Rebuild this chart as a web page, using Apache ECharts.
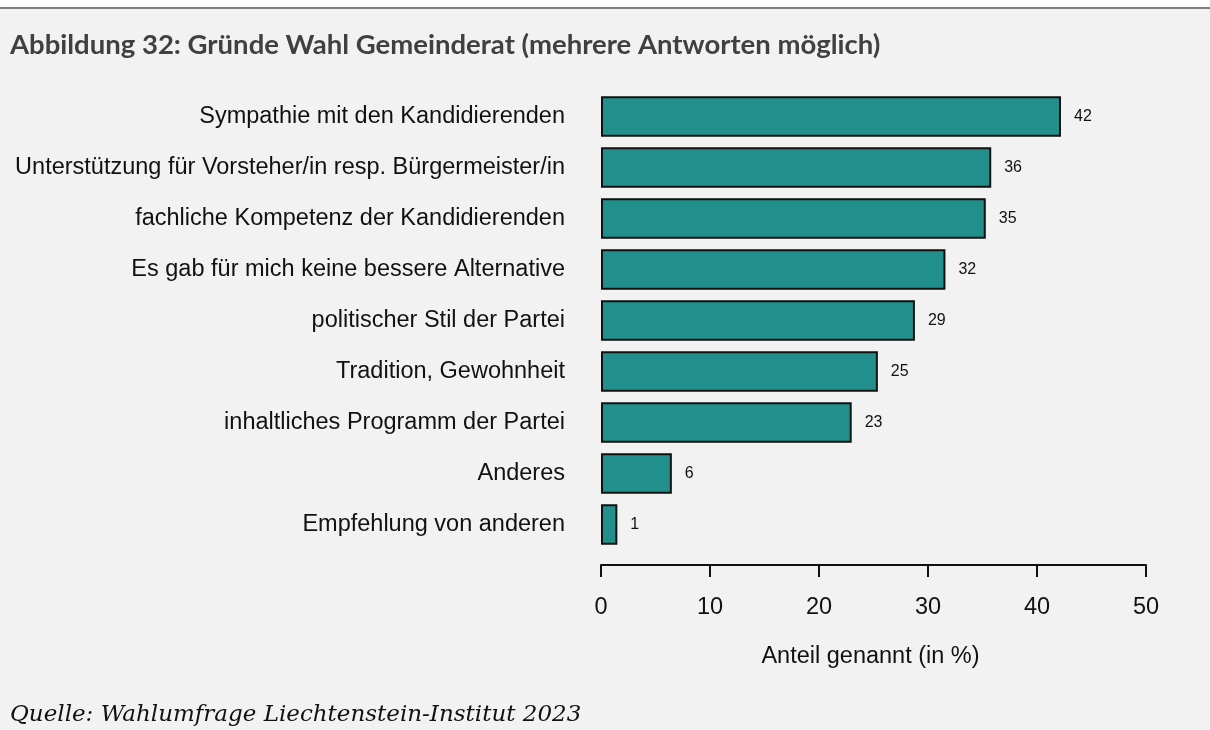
<!DOCTYPE html>
<html>
<head>
<meta charset="utf-8">
<script src="https://cdn.jsdelivr.net/npm/echarts@6/dist/echarts.min.js"></script>
<style>
  html, body { margin: 0; padding: 0; background: #f2f2f2; }
  #chart { width: 1210px; height: 730px; }
</style>
</head>
<body>
<div id="chart"></div>
<script>
// Gründe Wahl Gemeinderat, Anteil genannt (in %)
const categories = [
  'Sympathie mit den Kandidierenden',
  'Unterstützung für Vorsteher/in resp. Bürgermeister/in',
  'fachliche Kompetenz der Kandidierenden',
  'Es gab für mich keine bessere Alternative',
  'politischer Stil der Partei',
  'Tradition, Gewohnheit',
  'inhaltliches Programm der Partei',
  'Anderes',
  'Empfehlung von anderen'
]
const values = [42.2, 35.8, 35.3, 31.6, 28.8, 25.4, 23.0, 6.5, 1.5]
const valueLabels = ['42', '36', '35', '32', '29', '25', '23', '6', '1']
const xTicks = [0, 10, 20, 30, 40, 50]

const chart = echarts.init(document.getElementById('chart'))

const option = {
  backgroundColor: '#f2f2f2',
  animation: false,
  title: [
    {
      text: 'Abbildung 32: Gründe Wahl Gemeinderat (mehrere Antworten möglich)',
      left: 5,
      top: 26,
      textStyle: {
        fontFamily: 'Lato',
        fontWeight: 'bold',
        fontSize: 27.5,
        color: '#404040'
      }
    },
    {
      text: 'Quelle: Wahlumfrage Liechtenstein-Institut 2023',
      left: 5,
      top: 699,
      textStyle: {
        fontFamily: 'DejaVu Serif',
        fontStyle: 'italic',
        fontWeight: 'normal',
        fontSize: 23,
        color: '#111'
      }
    }
  ],
  graphic: [
    {
      type: 'rect',
      shape: { x: 0, y: 0, width: 1210, height: 7 },
      style: { fill: '#ffffff' }
    },
    {
      type: 'line',
      shape: { x1: 0, y1: 8, x2: 1210, y2: 8 },
      style: { stroke: '#7f7f7f', lineWidth: 2 }
    }
  ],
  grid: {
    left: 601,
    right: 64,
    top: 91,
    height: 459
  },
  xAxis: {
    type: 'value',
    min: 0,
    max: 50,
    interval: 10,
    offset: 15,
    name: 'Anteil genannt (in %)',
    nameLocation: 'middle',
    nameGap: 80,
    nameTextStyle: { fontFamily: 'Liberation Sans', fontSize: 23.5, color: '#111', padding: [0, 6, 0, 0] },
    axisLine: { show: true, lineStyle: { color: '#111', width: 2 } },
    axisTick: { show: true, length: 12, lineStyle: { color: '#111', width: 2 } },
    axisLabel: {
      margin: 31,
      fontFamily: 'Liberation Sans',
      fontSize: 23.5,
      color: '#111',
      formatter: v => (xTicks.includes(v) ? String(v) : '')
    },
    splitLine: { show: false }
  },
  yAxis: {
    type: 'category',
    data: categories,
    inverse: true,
    axisLine: { show: false },
    axisTick: { show: false },
    axisLabel: {
      margin: 36,
      fontFamily: 'Liberation Sans',
      fontSize: 23.5,
      color: '#111'
    }
  },
  series: [{
    type: 'bar',
    data: values,
    barCategoryGap: '21%',
    itemStyle: {
      color: '#21908c',
      borderColor: '#111',
      borderWidth: 2
    },
    label: {
      show: true,
      position: 'right',
      distance: 13,
      fontFamily: 'Liberation Sans',
      fontSize: 16,
      color: '#111',
      formatter: p => valueLabels[p.dataIndex]
    }
  }]
}

chart.setOption(option)
</script>
</body>
</html>
